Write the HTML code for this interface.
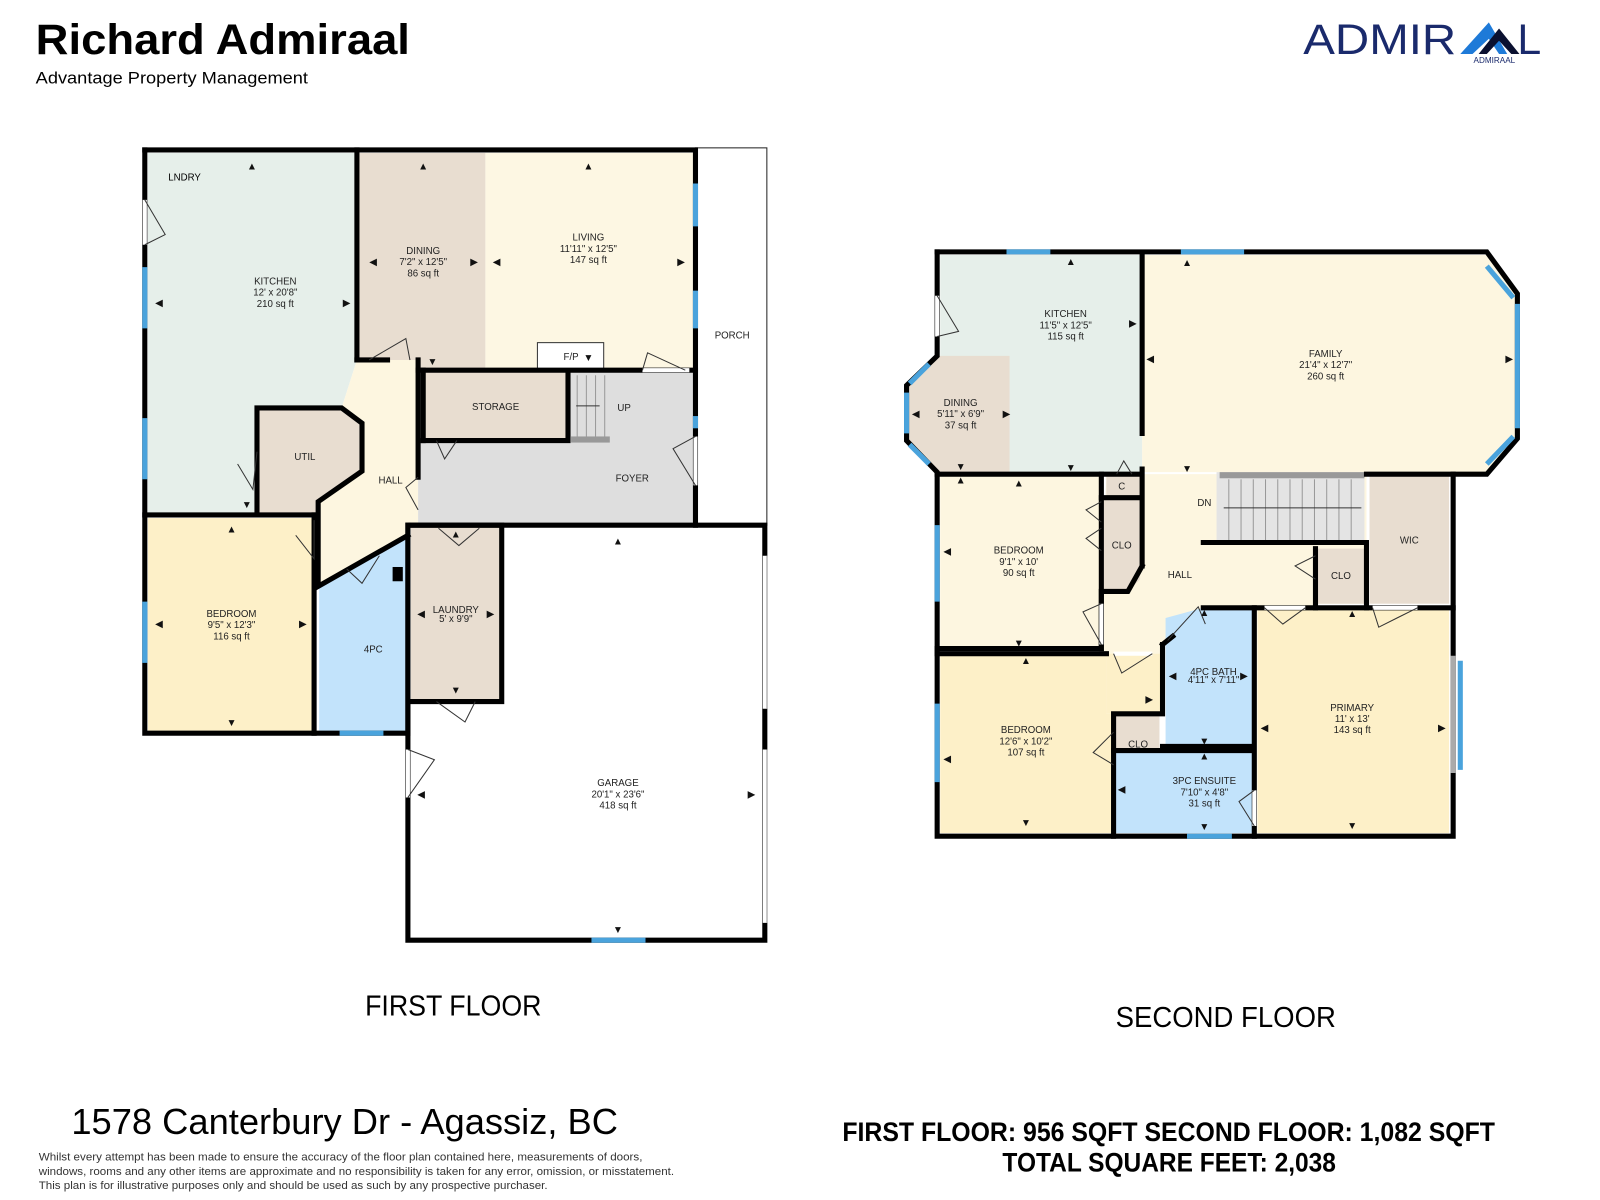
<!DOCTYPE html>
<html><head><meta charset="utf-8"><style>
html,body{margin:0;padding:0;background:#fff;}
svg{display:block}
text{font-family:"Liberation Sans",sans-serif;}
.r{font-size:9.5px;fill:#222;text-anchor:middle}
.a{font-size:10px;fill:#111;text-anchor:middle}
</style></head><body>
<svg width="1600" height="1200" viewBox="0 0 1569 1176.75" xmlns="http://www.w3.org/2000/svg">
<rect width="1569" height="1177" fill="#fff"/>
<!-- header -->
<text x="35" y="53" font-size="42" font-weight="bold" textLength="367" lengthAdjust="spacingAndGlyphs">Richard Admiraal</text>
<text x="35" y="82" font-size="16" textLength="267" lengthAdjust="spacingAndGlyphs">Advantage Property Management</text>
<text x="1278" y="53" font-size="42" fill="#1a2a6c" textLength="150" lengthAdjust="spacingAndGlyphs">ADMIR</text>
<polygon points="1432,53 1460,22 1478,53 1470,53 1460,38 1444,53" fill="#1e7ad8"/>
<polygon points="1450,53 1470,28 1490,53 1482,53 1470,40 1458,53" fill="#0a1030"/>
<text x="1488" y="53" font-size="42" fill="#1a2a6c">L</text>
<text x="1445" y="62" font-size="8" fill="#1a2a6c">ADMIRAAL</text>

<!-- FIRST FLOOR fills -->
<rect x="682" y="145" width="70" height="370" fill="#fff" stroke="#222" stroke-width="1"/>
<polygon points="145,150 350,150 350,353 335,400 252,400 252,505 145,505" fill="#e6efea"/>
<rect x="352" y="150" width="124" height="212" fill="#e8ddd0"/>
<rect x="476" y="150" width="206" height="212" fill="#fdf7e3"/>
<polygon points="350,353 410,353 410,515 400,515 400,525 313,575 313,492 355,462 355,415 335,400" fill="#fdf6e0"/>
<polygon points="252,400 335,400 355,415 355,462 312,492 312,505 252,505" fill="#e8ddd0"/>
<rect x="410" y="365" width="270" height="150" fill="#dedede"/>
<rect x="415" y="365" width="142" height="67" fill="#e8ddd0"/>
<rect x="145" y="508" width="163" height="210" fill="#fdf0c8"/>
<polygon points="313,575 400,525 400,719 313,719" fill="#c2e3fb"/>
<rect x="403" y="515" width="89" height="173" fill="#e8ddd0"/>
<!-- stairs -->
<g stroke="#999" stroke-width="1"><line x1="566" y1="368" x2="566" y2="430"/><line x1="575" y1="368" x2="575" y2="430"/><line x1="584" y1="368" x2="584" y2="430"/><line x1="593" y1="368" x2="593" y2="430"/></g>
<rect x="560" y="428" width="38" height="6" fill="#999"/>
<line x1="565" y1="398" x2="588" y2="398" stroke="#333"/>
<rect x="527" y="336" width="65" height="27" fill="#fff" stroke="#333"/>
<!-- walls first floor -->
<g stroke="#000" stroke-width="5" fill="none" stroke-linecap="square">
<polyline points="142,147 682,147 682,515"/>
<polyline points="142,147 142,719 400,719"/>
<line x1="142" y1="505" x2="310" y2="505"/>
<line x1="350" y1="147" x2="350" y2="353"/>
<polyline points="252,505 252,400 335,400 355,415 355,462 312,492 312,575 400,525"/>
<line x1="308" y1="505" x2="308" y2="719"/>
<line x1="410" y1="353" x2="410" y2="468"/>
<line x1="410" y1="363" x2="682" y2="363"/>
<line x1="415" y1="363" x2="415" y2="432"/>
<polyline points="415,432 557,432 557,365"/>
<polyline points="400,515 750,515 750,922 400,922 400,515"/>
<polyline points="403,515 492,515 492,688 403,688"/>
<line x1="400" y1="515" x2="400" y2="719"/>
<line x1="350" y1="353" x2="380" y2="353"/>
</g>
<rect x="385" y="556" width="10" height="14" fill="#000"/>
<!-- windows/openings FF -->
<g stroke="#4aa3dc" stroke-width="5">
<line x1="142" y1="262" x2="142" y2="322"/><line x1="142" y1="410" x2="142" y2="470"/><line x1="142" y1="590" x2="142" y2="650"/>
<line x1="682" y1="180" x2="682" y2="222"/><line x1="682" y1="285" x2="682" y2="322"/><line x1="682" y1="408" x2="682" y2="420"/>
<line x1="333" y1="719" x2="376" y2="719"/><line x1="580" y1="922" x2="633" y2="922"/>
</g>
<g stroke="#fff" stroke-width="4"><line x1="750" y1="545" x2="750" y2="695"/><line x1="750" y1="735" x2="750" y2="905"/><line x1="142" y1="196" x2="142" y2="240"/><line x1="400" y1="735" x2="400" y2="782"/><line x1="630" y1="363" x2="676" y2="363"/><line x1="682" y1="428" x2="682" y2="476"/></g>
<g stroke="#aaa" stroke-width="1"><line x1="752" y1="545" x2="752" y2="695"/><line x1="752" y1="735" x2="752" y2="905"/></g>
<!-- door swings -->
<g stroke="#333" stroke-width="1" fill="none">
<path d="M142,196 L162,230 L142,240"/><path d="M400,735 L426,745 L400,782"/><path d="M682,428 L660,440 L682,476"/>
<path d="M630,363 L635,346 L672,363"/><path d="M362,353 L398,332 L402,353"/><path d="M233,455 L248,480 L252,443"/>
<path d="M290,525 L308,548 L308,510"/><path d="M340,558 L355,572 L372,545"/><path d="M428,432 L436,450 L448,432"/>
<path d="M410,468 L398,478 L410,500"/><path d="M430,518 L450,535 L470,518"/><path d="M428,688 L456,708 L466,688"/>
</g>
<!-- FF labels -->
<text x="165" y="177" font-size="9.5">LNDRY</text>
<text class="r" x="270" y="279">KITCHEN</text><text class="r" x="270" y="290">12' x 20'8"</text><text class="r" x="270" y="301">210 sq ft</text>
<text class="r" x="415" y="249">DINING</text><text class="r" x="415" y="260">7'2" x 12'5"</text><text class="r" x="415" y="271">86 sq ft</text>
<text class="r" x="577" y="236">LIVING</text><text class="r" x="577" y="247">11'11" x 12'5"</text><text class="r" x="577" y="258">147 sq ft</text>
<text class="r" x="718" y="332">PORCH</text><text class="r" x="560" y="353">F/P</text>
<text class="r" x="486" y="402">STORAGE</text><text class="r" x="612" y="403">UP</text>
<text class="r" x="299" y="451">UTIL</text><text class="r" x="383" y="474">HALL</text><text class="r" x="620" y="472">FOYER</text>
<text class="r" x="227" y="605">BEDROOM</text><text class="r" x="227" y="616">9'5" x 12'3"</text><text class="r" x="227" y="627">116 sq ft</text>
<text class="r" x="366" y="640">4PC</text>
<text class="r" x="447" y="601" font-size="8">LAUNDRY</text><text class="r" x="447" y="610" font-size="8">5' x 9'9"</text>
<text class="r" x="606" y="771">GARAGE</text><text class="r" x="606" y="782">20'1" x 23'6"</text><text class="r" x="606" y="793">418 sq ft</text>
<g class="a">
<text x="247" y="166">▲</text><text x="156" y="300">◀</text><text x="340" y="300">▶</text>
<text x="415" y="166">▲</text><text x="366" y="260">◀</text><text x="465" y="260">▶</text><text x="424" y="358">▼</text>
<text x="577" y="166">▲</text><text x="487" y="260">◀</text><text x="668" y="260">▶</text><text x="577" y="354">▼</text>
<text x="242" y="498">▼</text><text x="227" y="522">▲</text><text x="156" y="615">◀</text><text x="297" y="615">▶</text><text x="227" y="712">▼</text>
<text x="447" y="527">▲</text><text x="413" y="605">◀</text><text x="481" y="605">▶</text><text x="447" y="680">▼</text>
<text x="606" y="534">▲</text><text x="413" y="782">◀</text><text x="737" y="782">▶</text><text x="606" y="915">▼</text>
</g>

<!-- SECOND FLOOR fills -->
<rect x="922" y="250" width="198" height="215" fill="#e6efea"/>
<polygon points="919,349 990,349 990,463 919,463 889,432 889,378" fill="#e8ddd0"/>
<polygon points="1120,250 1458,250 1488,288 1488,430 1458,465 1340,465 1340,592 1290,592 1290,538 1193,538 1193,463 1120,463" fill="#fdf6e0"/>
<polygon points="1085,465 1193,465 1193,538 1290,538 1290,596 1180,596 1140,632 1140,641 1080,641 1080,580" fill="#fdf6e0"/>
<rect x="922" y="467" width="156" height="169" fill="#fdf6e0"/>
<polygon points="922,641 1085,641 1085,700 1092,700 1092,817 922,817" fill="#fdf0c8"/>
<polygon points="1085,641 1140,641 1140,700 1085,700" fill="#fdf0c8"/>
<rect x="1193" y="463" width="145" height="69" fill="#e4e4e4"/>
<g stroke="#999" stroke-width="1"><line x1="1205" y1="470" x2="1205" y2="530"/><line x1="1217" y1="470" x2="1217" y2="530"/><line x1="1229" y1="470" x2="1229" y2="530"/><line x1="1241" y1="470" x2="1241" y2="530"/><line x1="1253" y1="470" x2="1253" y2="530"/><line x1="1265" y1="470" x2="1265" y2="530"/><line x1="1277" y1="470" x2="1277" y2="530"/><line x1="1289" y1="470" x2="1289" y2="530"/><line x1="1301" y1="470" x2="1301" y2="530"/><line x1="1313" y1="470" x2="1313" y2="530"/><line x1="1325" y1="470" x2="1325" y2="530"/></g>
<rect x="1196" y="463" width="142" height="6" fill="#999"/>
<line x1="1200" y1="498" x2="1335" y2="498" stroke="#333"/>
<rect x="1343" y="467" width="78" height="125" fill="#e8ddd0"/>
<rect x="1292" y="538" width="48" height="54" fill="#e8ddd0"/>
<rect x="1233" y="596" width="188" height="221" fill="#fdf0c8"/>
<polygon points="1143,606 1180,596 1228,596 1228,732 1143,732" fill="#c2e3fb"/>
<rect x="1092" y="736" width="136" height="81" fill="#c2e3fb"/>
<rect x="1092" y="698" width="45" height="38" fill="#e8ddd0"/>
<polygon points="1080,488 1118,488 1118,568 1106,580 1080,580" fill="#e8ddd0"/>
<rect x="1085" y="465" width="33" height="22" fill="#e8ddd0"/>
<!-- SF walls -->
<g stroke="#000" stroke-width="5" fill="none" stroke-linecap="square">
<polyline points="919,247 1458,247 1488,288 1488,430 1458,465 1340,465"/>
<polyline points="919,247 919,349 889,378 889,432 919,463 919,820 1425,820 1425,465"/>
<line x1="919" y1="465" x2="1118" y2="465"/>
<line x1="1120" y1="250" x2="1120" y2="425"/>
<line x1="1120" y1="460" x2="1120" y2="555"/>
<polyline points="1120,555 1106,580 1080,580 1080,636 919,636"/>
<line x1="1080" y1="488" x2="1118" y2="488"/>
<line x1="1080" y1="465" x2="1080" y2="636"/>
<line x1="919" y1="641" x2="1085" y2="641"/>
<polyline points="1140,632 1140,700 1092,700 1092,820"/>
<polyline points="1092,736 1228,736"/>
<line x1="1140" y1="732" x2="1228" y2="732"/>
<polyline points="1180,596 1425,596"/>
<line x1="1230" y1="596" x2="1230" y2="820"/>
<polyline points="1180,532 1340,532 1340,596"/>
<line x1="1290" y1="538" x2="1290" y2="596"/>
<line x1="1140" y1="632" x2="1150" y2="624"/>
</g>
<g stroke="#4aa3dc" stroke-width="5">
<line x1="987" y1="247" x2="1030" y2="247"/><line x1="1158" y1="247" x2="1220" y2="247"/>
<line x1="1458" y1="261" x2="1484" y2="292"/><line x1="1488" y1="298" x2="1488" y2="420"/><line x1="1484" y1="428" x2="1458" y2="455"/>
<line x1="911" y1="357" x2="892" y2="376"/><line x1="889" y1="385" x2="889" y2="425"/><line x1="892" y1="436" x2="911" y2="455"/>
<line x1="919" y1="515" x2="919" y2="590"/><line x1="919" y1="690" x2="919" y2="767"/><line x1="1164" y1="820" x2="1208" y2="820"/>
<line x1="1432" y1="648" x2="1432" y2="755"/>
</g>
<line x1="1425" y1="643" x2="1425" y2="758" stroke="#aaa" stroke-width="5"/>
<g stroke="#fff" stroke-width="4"><line x1="919" y1="290" x2="919" y2="330"/><line x1="1240" y1="596" x2="1280" y2="596"/><line x1="1346" y1="596" x2="1390" y2="596"/><line x1="1230" y1="775" x2="1230" y2="810"/><line x1="1092" y1="641" x2="1130" y2="641"/><line x1="1080" y1="592" x2="1080" y2="632"/></g>
<g stroke="#333" stroke-width="1" fill="none">
<path d="M919,290 L940,325 L919,330"/><path d="M1240,596 L1258,612 L1280,596"/><path d="M1346,596 L1352,615 L1390,596"/>
<path d="M1230,775 L1215,786 L1230,810"/><path d="M1092,641 L1100,660 L1130,641"/><path d="M1080,592 L1062,600 L1080,632"/>
<path d="M1290,545 L1270,555 L1290,568"/><path d="M1080,492 L1065,500 L1080,512"/><path d="M1080,518 L1065,528 L1080,540"/>
<path d="M1092,718 L1072,738 L1092,750"/><path d="M1145,628 L1175,595 L1182,612"/><path d="M1095,465 L1102,452 L1110,465"/>
</g>
<!-- SF labels -->
<text class="r" x="1045" y="311">KITCHEN</text><text class="r" x="1045" y="322">11'5" x 12'5"</text><text class="r" x="1045" y="333">115 sq ft</text>
<text class="r" x="942" y="398">DINING</text><text class="r" x="942" y="409">5'11" x 6'9"</text><text class="r" x="942" y="420">37 sq ft</text>
<text class="r" x="1300" y="350">FAMILY</text><text class="r" x="1300" y="361">21'4" x 12'7"</text><text class="r" x="1300" y="372">260 sq ft</text>
<text class="r" x="1100" y="480">C</text><text class="r" x="1181" y="496">DN</text>
<text class="r" x="999" y="543">BEDROOM</text><text class="r" x="999" y="554">9'1" x 10'</text><text class="r" x="999" y="565">90 sq ft</text>
<text class="r" x="1100" y="538">CLO</text><text class="r" x="1382" y="533">WIC</text><text class="r" x="1157" y="567">HALL</text><text class="r" x="1315" y="568">CLO</text>
<text class="r" x="1190" y="662" font-size="8">4PC BATH</text><text class="r" x="1190" y="670" font-size="8">4'11" x 7'11"</text>
<text class="r" x="1006" y="719">BEDROOM</text><text class="r" x="1006" y="730">12'6" x 10'2"</text><text class="r" x="1006" y="741">107 sq ft</text>
<text class="r" x="1116" y="733">CLO</text>
<text class="r" x="1326" y="697">PRIMARY</text><text class="r" x="1326" y="708">11' x 13'</text><text class="r" x="1326" y="719">143 sq ft</text>
<text class="r" x="1181" y="769">3PC ENSUITE</text><text class="r" x="1181" y="780">7'10" x 4'8"</text><text class="r" x="1181" y="791">31 sq ft</text>
<g class="a" font-size="7">
<text x="1050" y="260">▲</text><text x="1111" y="320">▶</text><text x="1050" y="462">▼</text><text x="942" y="474">▲</text><text x="898" y="409">◀</text><text x="987" y="409">▶</text><text x="942" y="461">▼</text>
<text x="1164" y="261">▲</text><text x="1128" y="355">◀</text><text x="1480" y="355">▶</text><text x="1164" y="463">▼</text>
<text x="999" y="477">▲</text><text x="929" y="544">◀</text><text x="999" y="634">▼</text><text x="1006" y="651">▲</text><text x="929" y="747">◀</text><text x="1006" y="810">▼</text><text x="1127" y="689">▶</text>
<text x="1181" y="604">▲</text><text x="1150" y="666">◀</text><text x="1220" y="666">▶</text><text x="1181" y="730">▼</text>
<text x="1181" y="745">▲</text><text x="1100" y="777">◀</text><text x="1181" y="814">▼</text>
<text x="1326" y="605">▲</text><text x="1240" y="717">◀</text><text x="1414" y="717">▶</text><text x="1326" y="813">▼</text>
</g>
<!-- footer -->
<text x="358" y="996" font-size="28" textLength="173" lengthAdjust="spacingAndGlyphs">FIRST FLOOR</text>
<text x="1094" y="1007" font-size="28" textLength="216" lengthAdjust="spacingAndGlyphs">SECOND FLOOR</text>
<text x="70" y="1112" font-size="35" textLength="536" lengthAdjust="spacingAndGlyphs">1578 Canterbury Dr -  Agassiz, BC</text>
<text x="38" y="1138" font-size="10.5" fill="#333" textLength="592" lengthAdjust="spacingAndGlyphs">Whilst every attempt has been made to ensure the accuracy of the floor plan contained here, measurements of doors,</text>
<text x="38" y="1152" font-size="10.5" fill="#333" textLength="623" lengthAdjust="spacingAndGlyphs">windows, rooms and any other items are approximate and no responsibility is taken for any error, omission, or misstatement.</text>
<text x="38" y="1166" font-size="10.5" fill="#333" textLength="499" lengthAdjust="spacingAndGlyphs">This plan is for illustrative purposes only and should be used as such by any prospective purchaser.</text>
<text x="826" y="1119" font-size="26" font-weight="bold" textLength="640" lengthAdjust="spacingAndGlyphs">FIRST FLOOR: 956 SQFT  SECOND FLOOR:  1,082 SQFT</text>
<text x="983" y="1149" font-size="26" font-weight="bold" textLength="327" lengthAdjust="spacingAndGlyphs">TOTAL SQUARE FEET: 2,038</text>
</svg>
</body></html>
